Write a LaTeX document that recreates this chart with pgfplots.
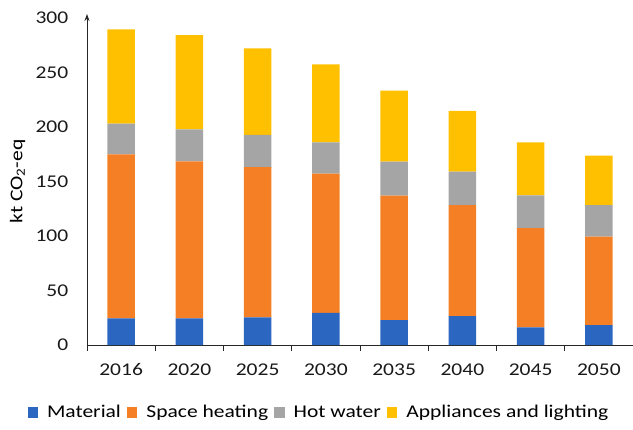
\documentclass[border=0pt]{standalone}
\usepackage{fontspec}
\setmainfont{Carlito}[FakeStretch=1.2]
\usepackage{pgfplots}
\usepackage{pgfplotstable}
\pgfplotsset{compat=1.18}
\usetikzlibrary{arrows.meta}
\definecolor{cMat}{HTML}{2B67C0}
\definecolor{cSH}{HTML}{F47F24}
\definecolor{cHW}{HTML}{A5A5A5}
\definecolor{cApp}{HTML}{FFC000}
\pgfplotstableread{
x mat sh hw app
0 24.5 150.5 28.0 86.6
1 24.5 144.0 29.4 86.5
2 25.4 137.9 29.4 79.5
3 29.4 127.8 28.8 71.5
4 22.9 114.1 31.2 65.1
5 26.6 101.8 30.6 55.7
6 16.2  91.1 30.0 48.7
7 18.3  81.1 29.0 45.3
}\data
\begin{document}
\begin{tikzpicture}[x=1bp,y=1bp]
\begin{axis}[
  at={(0,0)}, anchor=south west,
  scale only axis, width=546bp, height=327bp,
  xmin=-0.5, xmax=7.5, ymin=0, ymax=300,
  ybar stacked, bar width=27.6bp,
  axis x line*=bottom,
  axis y line*=left,
  y axis line style={-{Stealth[length=7bp,width=5bp]}, shorten >=-4bp},
  x axis line style={-},
  axis line style={line width=0.9bp, black!85},
  xtick={0,...,7},
  xticklabels={2016,2020,2025,2030,2035,2040,2045,2050},
  major x tick style={draw=none},
  minor xtick={-0.5,0.5,...,7.5},
  minor x tick style={line width=0.9bp, black!85},
  minor tick length=6bp,
  tick align=outside,
  ytick={0,50,...,300},
  major y tick style={draw=none},
  /pgf/number format/assume math mode=true,
  ticklabel style={font=\fontsize{18}{21}\selectfont, text=black!90},
  xticklabel style={yshift=-11bp},
  yticklabel style={xshift=-11bp},
  ylabel={kt CO\textsubscript{2}-eq},
  every axis y label/.style={at={(axis description cs:0,0.5)}, rotate=90, anchor=center, yshift=69.5bp, font=\fontsize{18}{21}\selectfont},
  legend columns=4,
  legend style={draw=none, at={(axis description cs:0.423,-0.205)}, anchor=center,
    font=\fontsize{18}{21}\selectfont,
    nodes={inner sep=0pt},
    /tikz/every even column/.append style={column sep=6bp},
    /tikz/every odd column/.append style={column sep=9bp},
    inner sep=0pt},
  legend image code/.code={\fill[#1] (0bp,-5.5bp) rectangle (10.5bp,5.5bp);},
  every axis plot/.append style={draw=none},
]
\addplot[fill=cMat] table[x=x,y=mat]{\data};
\addplot[fill=cSH] table[x=x,y=sh]{\data};
\addplot[fill=cHW] table[x=x,y=hw]{\data};
\addplot[fill=cApp] table[x=x,y=app]{\data};
\legend{Material,Space heating,Hot water,Appliances and lighting}
\end{axis}
\pgfresetboundingbox
\path[use as bounding box] (-87,-84) rectangle (546,345);
\end{tikzpicture}
\end{document}
